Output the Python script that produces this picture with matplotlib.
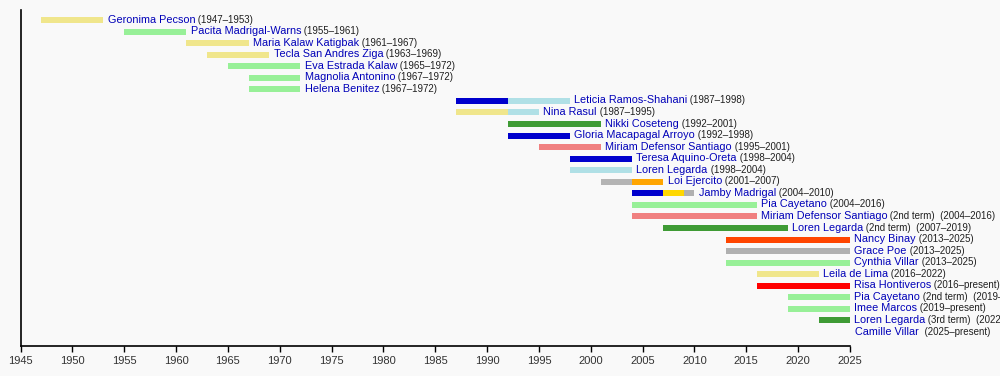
import matplotlib
matplotlib.use("Agg")
import matplotlib.pyplot as plt

plt.rcParams['font.family'] = ['Liberation Sans', 'DejaVu Sans']

# senators, their terms and party segments (start, end, party)
names = [
    "Geronima Pecson", "Pacita Madrigal-Warns", "Maria Kalaw Katigbak",
    "Tecla San Andres Ziga", "Eva Estrada Kalaw", "Magnolia Antonino",
    "Helena Benitez", "Leticia Ramos-Shahani", "Nina Rasul", "Nikki Coseteng",
    "Gloria Macapagal Arroyo", "Miriam Defensor Santiago", "Teresa Aquino-Oreta",
    "Loren Legarda", "Loi Ejercito", "Jamby Madrigal", "Pia Cayetano",
    "Miriam Defensor Santiago", "Loren Legarda", "Nancy Binay", "Grace Poe",
    "Cynthia Villar", "Leila de Lima", "Risa Hontiveros", "Pia Cayetano",
    "Imee Marcos", "Loren Legarda", "Camille Villar",
]
periods = [
    " (1947–1953)", " (1955–1961)", " (1961–1967)", " (1963–1969)",
    " (1965–1972)", " (1967–1972)", " (1967–1972)", " (1987–1998)",
    " (1987–1995)", " (1992–2001)", " (1992–1998)", " (1995–2001)",
    " (1998–2004)", " (1998–2004)", " (2001–2007)", " (2004–2010)",
    " (2004–2016)", " (2nd term)  (2004–2016)", " (2nd term)  (2007–2019)",
    " (2013–2025)", " (2013–2025)", " (2013–2025)", " (2016–2022)",
    " (2016–present)", " (2nd term)  (2019–present)", " (2019–present)",
    " (3rd term)  (2022–present)", "  (2025–present)",
]
segments = [
    [(1947, 1953, "LP")],
    [(1955, 1961, "NP")],
    [(1961, 1967, "LP")],
    [(1963, 1969, "LP")],
    [(1965, 1972, "NP")],
    [(1967, 1972, "NP")],
    [(1967, 1972, "NP")],
    [(1987, 1992, "LDP"), (1992, 1998, "Lakas")],
    [(1987, 1992, "LP"), (1992, 1995, "Lakas")],
    [(1992, 2001, "NPC")],
    [(1992, 1998, "LDP")],
    [(1995, 2001, "PRP")],
    [(1998, 2004, "LDP")],
    [(1998, 2004, "Lakas")],
    [(2001, 2004, "PMP"), (2004, 2007, "PDP")],
    [(2004, 2007, "LDP"), (2007, 2009, "KAM"), (2009, 2010, "IND")],
    [(2004, 2016, "NP")],
    [(2004, 2016, "PRP")],
    [(2007, 2019, "NPC")],
    [(2013, 2025, "UNA")],
    [(2013, 2025, "IND")],
    [(2013, 2025, "NP")],
    [(2016, 2022, "LP")],
    [(2016, 2025, "Akbayan")],
    [(2019, 2025, "NP")],
    [(2019, 2025, "NP")],
    [(2022, 2025, "NPC")],
    [(2025, 2025.1, "NP")],
]
year_ticks = list(range(1945, 2026, 5))

party_colors = {
    "LP": "#f0e68c", "NP": "#98f098", "LDP": "#0000cd", "Lakas": "#b0e0e6",
    "NPC": "#3f9b35", "PRP": "#f08080", "PMP": "#b4b4b4", "PDP": "#ffa500",
    "KAM": "#ffd700", "IND": "#b0b0b0", "UNA": "#ff4500", "Akbayan": "#ff0000",
}

fig = plt.figure(figsize=(10, 3.76), dpi=100, facecolor="#f9f9f9")
ax = fig.add_axes([0.0205, 0.0798, 0.8295, 0.8936])
ax.set_facecolor("#f9f9f9")

for i, (name, per, segs) in enumerate(zip(names, periods, segments)):
    for s, e, p in segs:
        ax.barh(i, e - s, left=s, height=0.52, color=party_colors[p], linewidth=0)
    end = segs[-1][1]
    t = ax.annotate(name, xy=(end, i), xytext=(3, 0.3), textcoords="offset points",
                    va="center", ha="left", fontsize=7.8, color="#0000b8",
                    annotation_clip=False)
    ax.annotate(per, xy=(1, 0), xycoords=t, va="bottom", ha="left",
                fontsize=7.0, color="#202020", annotation_clip=False)

ax.set_xlim(1945, 2025)
ax.set_ylim(28.21, -0.865)
ax.set_xticks(year_ticks)
ax.set_yticks([])
ax.tick_params(axis="x", direction="out", length=4, width=1, labelsize=8,
               labelcolor="#333333", pad=3)
for side in ["top", "right"]:
    ax.spines[side].set_visible(False)
ax.spines["left"].set_linewidth(1.2)
ax.spines["bottom"].set_linewidth(1.2)

fig.savefig("out.png", dpi=100, facecolor=fig.get_facecolor())
